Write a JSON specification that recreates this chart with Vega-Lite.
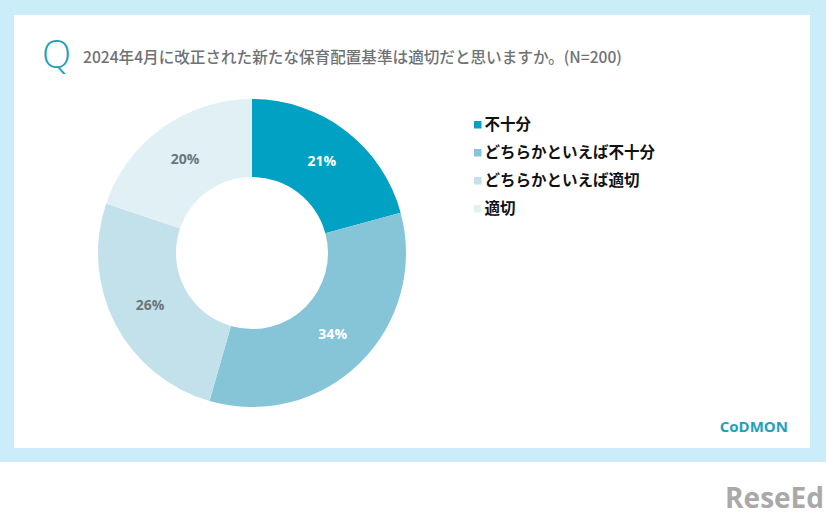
{
  "$schema": "https://vega.github.io/schema/vega-lite/v6.json",
  "padding": 0,
  "background": "white",
  "spacing": 0,
  "config": {
    "view": {"stroke": null},
    "concat": {"spacing": 0},
    "font": "Noto Sans CJK JP"
  },
  "data": {
    "values": [
      {"answer": "不十分", "level": 1, "share": 0.21},
      {"answer": "どちらかといえば不十分", "level": 2, "share": 0.34},
      {"answer": "どちらかといえば適切", "level": 3, "share": 0.26},
      {"answer": "適切", "level": 4, "share": 0.20}
    ]
  },
  "vconcat": [
    {"width": 826, "height": 15, "mark": {"type": "text", "text": ""}, "view": {"fill": "#cbedfa", "stroke": null}},
    {
      "spacing": 0,
      "hconcat": [
        {"width": 14, "height": 433, "mark": {"type": "text", "text": ""}, "view": {"fill": "#cbedfa", "stroke": null}},
        {
          "spacing": 0,
          "vconcat": [
            {
              "spacing": 0,
              "hconcat": [
                {
                  "width": 61, "height": 81,
                  "mark": {"type": "text", "text": ""},
                  "title": {
                    "text": "Q",
                    "orient": "top",
                    "anchor": "start",
                    "frame": "group",
                    "baseline": "alphabetic",
                    "offset": -91,
                    "dx": 28,
                    "font": "Open Sans",
                    "fontSize": 38,
                    "fontWeight": 300,
                    "color": "#1aa0ba"
                  }
                },
                {
                  "width": 735, "height": 81,
                  "mark": {"type": "text", "text": ""},
                  "title": {
                    "text": "2024年4月に改正された新たな保育配置基準は適切だと思いますか。(N=200)",
                    "orient": "top",
                    "anchor": "start",
                    "frame": "group",
                    "baseline": "alphabetic",
                    "offset": -63.6,
                    "dx": 8,
                    "font": "Noto Sans CJK JP",
                    "fontSize": 15.6,
                    "fontWeight": 500,
                    "color": "#6e7275"
                  }
                }
              ]
            },
            {
              "width": 476, "height": 314,
              "layer": [
                {
                  "mark": {"type": "arc", "innerRadius": 76, "outerRadius": 154},
                  "encoding": {
                    "theta": {"field": "share", "type": "quantitative", "stack": true},
                    "order": {"field": "level", "type": "quantitative"},
                    "color": {
                      "field": "answer",
                      "type": "nominal",
                      "sort": ["不十分", "どちらかといえば不十分", "どちらかといえば適切", "適切"],
                      "scale": {
                        "domain": ["不十分", "どちらかといえば不十分", "どちらかといえば適切", "適切"],
                        "range": ["#00a1c2", "#85c5d7", "#c3e1ea", "#e0f0f5"]
                      },
                      "legend": {
                        "orient": "none",
                        "legendX": 470,
                        "legendY": 117,
                        "title": null,
                        "symbolType": "square",
                        "symbolSize": 56,
                        "symbolStrokeWidth": 0,
                        "labelFont": "Noto Sans CJK JP",
                        "labelFontSize": 15.5,
                        "labelFontWeight": "bold",
                        "labelColor": "#111111",
                        "labelOffset": -1,
                        "labelLimit": 400,
                        "rowPadding": 11
                      }
                    }
                  }
                },
                {
                  "mark": {"type": "text", "radius": 115, "font": "Open Sans", "fontSize": 14, "fontWeight": "bold"},
                  "encoding": {
                    "theta": {"field": "share", "type": "quantitative", "stack": true},
                    "order": {"field": "level", "type": "quantitative"},
                    "text": {"field": "share", "type": "quantitative", "format": ".0%"},
                    "color": {
                      "condition": {"test": "datum.level <= 2", "value": "#ffffff"},
                      "value": "#6b777c"
                    }
                  }
                }
              ]
            },
            {
              "width": 796, "height": 38,
              "mark": {"type": "text", "text": ""},
              "title": {
                "text": "CoDMON",
                "orient": "top",
                "anchor": "end",
                "frame": "group",
                "baseline": "alphabetic",
                "offset": -37,
                "dx": -22,
                "font": "Open Sans",
                "fontSize": 15,
                "fontWeight": "bold",
                "color": "#1da1bd"
              }
            }
          ]
        },
        {"width": 16, "height": 433, "mark": {"type": "text", "text": ""}, "view": {"fill": "#cbedfa", "stroke": null}}
      ]
    },
    {"width": 826, "height": 14, "mark": {"type": "text", "text": ""}, "view": {"fill": "#cbedfa", "stroke": null}},
    {
      "width": 826, "height": 55,
      "mark": {"type": "text", "text": ""},
      "title": {
        "text": "ReseEd",
        "orient": "top",
        "anchor": "end",
        "frame": "group",
        "baseline": "alphabetic",
        "offset": -74,
        "dx": -2,
        "font": "Open Sans",
        "fontSize": 28,
        "fontWeight": "bold",
        "color": "#a9a9a9"
      }
    }
  ]
}
